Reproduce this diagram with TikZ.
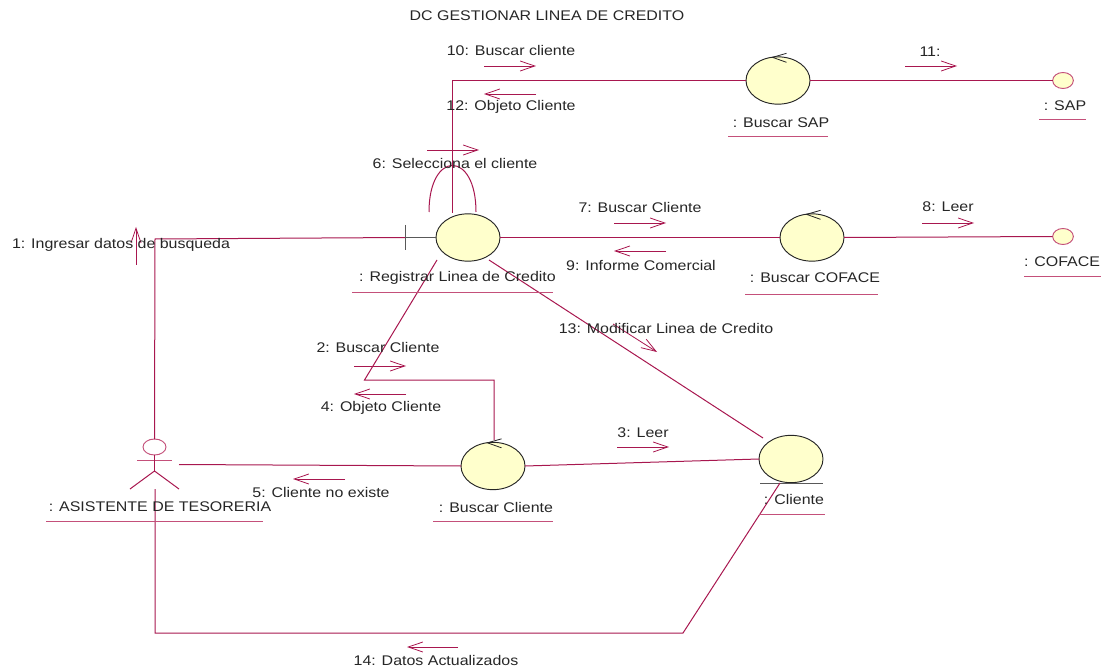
\documentclass[tikz,border=0pt]{standalone}
\usepackage{fontspec}
\setmainfont[FakeStretch=1.14]{Liberation Sans}
\usetikzlibrary{calc,arrows.meta,shapes.geometric}
\definecolor{linkrose}{HTML}{A8174F}
\definecolor{underrose}{HTML}{C4507A}
\definecolor{ballfill}{HTML}{FFFFCC}
\tikzset{
	link/.style={line width=0.75pt, color=linkrose},
	msg/.style={line width=0.6pt, color=linkrose, -{Straight Barb[length=11pt,width=7.5pt,line width=0.6pt]}},
	underl/.style={line width=0.75pt, color=underrose},
	ball/.style={ellipse, draw=black!85, fill=ballfill, line width=0.7pt, minimum width=48pt, minimum height=35.5pt, inner sep=0pt, outer sep=0pt},
	iface/.style={ellipse, draw=underrose, fill=ballfill, line width=0.7pt, minimum width=15.5pt, minimum height=12pt, inner sep=0pt, outer sep=0pt},
	lbl/.style={font=\fontsize{10.5pt}{12pt}\selectfont, color=black!85, inner sep=0pt},
	stem/.style={line width=0.75pt, color=black!65}
}
\def\ctrlmark(#1){\draw[line width=0.6pt, color=black!85] ($(#1.north)+(8.5,-3.5)$) -- ($(#1.north)+(-5.5,0.5)$) -- ($(#1.north)+(8.5,5.5)$);}
\begin{document}
\begin{tikzpicture}[x=0.75pt,y=-0.75pt]
	%%%%% START %%%%%
	\useasboundingbox (0,0) rectangle (1106,670);
	\node[lbl] (title) at (547,16) {DC GESTIONAR LINEA DE CREDITO};
	
	\node[ball] (regis) at (468,237.5) {};
	\node[ball] (busap) at (778,80.5) {};
	\node[ball] (bucof) at (812,237.5) {};
	\node[ball] (bucli) at (493,466) {};
	\node[ball] (clien) at (791,459) {};
	\node[iface] (sap) at (1063,80.5) {};
	\node[iface] (cofac) at (1063,236.5) {};
	
	\ctrlmark(busap);
	\ctrlmark(bucof);
	\ctrlmark(bucli);
	
	% boundary
	\coordinate (tick) at (405,237.5);
	\draw[stem] (405,225) -- (405,250);
	\draw[stem] (tick) -- (regis.west);
	
	% entity
	\draw[stem] (760,483) -- (823,483);
	
	% actor
	\node[iface, fill=white, minimum width=17.25pt] (actor) at (154.5,447) {};
	\coordinate (hip) at (154.5,471);
	\coordinate (armL) at (137,460.5);
	\coordinate (armR) at (172,460.5);
	\draw[underl] (armL) -- (armR);
	\draw[link] (actor.south) -- (hip);
	\draw[link] (130,489) -- (hip) -- (179,489);
	
	% links
	\coordinate (actup) at (155,239);
	\coordinate (topin) at (452,213);
	\coordinate (topbend) at (452,80.5);
	\coordinate (regA) at (437,260);
	\coordinate (bendA) at (364.5,380);
	\coordinate (bendB) at (494,380);
	\coordinate (bucliTop) at (494,440);
	\coordinate (regB) at (489,260);
	\coordinate (cliB) at (763,438);
	\coordinate (actR) at (179,464.5);
	\coordinate (actD) at (155,489);
	\coordinate (downL) at (155,633);
	\coordinate (downR) at (683,633);
	\coordinate (cliD) at (780,483);
	\draw[link] (actor.north) -- (actup) -- (tick);
	\draw[link] (topin) -- (topbend) -- (busap.west);
	\draw[link] (busap.east) -- (sap.west);
	\draw[link] (429,212) .. controls (429,150) and (476,150) .. (476,212);
	\draw[link] (regis.east) -- (bucof.west);
	\draw[link] (bucof.east) -- (cofac.west);
	\draw[link] (regA) -- (bendA) -- (bendB) -- (bucliTop);
	\draw[link] (regB) -- (cliB);
	\draw[link] (actR) -- (bucli.west);
	\draw[link] (bucli.east) -- (clien.west);
	\draw[link] (actD) -- (downL) -- (downR) -- (cliD);
	
	% messages
	\draw[msg] (484,66) -- (536,66);
	\draw[msg] (536,94) -- (484,94);
	\draw[msg] (905,66) -- (957,66);
	\draw[msg] (427,150) -- (479,150);
	\draw[msg] (614,223) -- (666,223);
	\draw[msg] (666,251) -- (614,251);
	\draw[msg] (922,223) -- (974,223);
	\draw[msg] (136,265) -- (136,227);
	\draw[msg] (354,366) -- (406,366);
	\draw[msg] (406,394) -- (354,394);
	\draw[msg] (613,324) -- (657,352);
	\draw[msg] (617,447) -- (669,447);
	\draw[msg] (345,479) -- (293,479);
	\draw[msg] (458,647) -- (407,647);
	
	% message texts
	\node[lbl] (msgten) at (511,50) {10: Buscar cliente};
	\node[lbl] (msgtwelve) at (511,107) {12: Objeto Cliente};
	\node[lbl] (msgeleven) at (930,52) {11:};
	\node[lbl] (msgsix) at (455,163) {6: Selecciona el cliente};
	\node[lbl] (msgseven) at (640,207) {7: Buscar Cliente};
	\node[lbl] (msgnine) at (641,265) {9: Informe Comercial};
	\node[lbl] (msgeight) at (948,207) {8: Leer};
	\node[lbl] (msgone) at (121,245) {1: Ingresar datos de busqueda};
	\node[lbl] (msgtwo) at (378,347) {2: Buscar Cliente};
	\node[lbl] (msgfour) at (381,408) {4: Objeto Cliente};
	\node[lbl] (msgthirteen) at (666,328) {13: Modificar Linea de Credito};
	\node[lbl] (msgthree) at (643,433) {3: Leer};
	\node[lbl] (msgfive) at (321,492) {5: Cliente no existe};
	\node[lbl] (msgfourteen) at (436,660) {14: Datos Actualizados};
	
	% object names
	\node[lbl] (nregis) at (457.5,278) {: Registrar Linea de Credito};
	\node[lbl] (nbusap) at (781,123) {: Buscar SAP};
	\node[lbl] (nsap) at (1065,106) {: SAP};
	\node[lbl] (ncofac) at (1062,262) {: COFACE};
	\node[lbl] (nbucof) at (815,278) {: Buscar COFACE};
	\node[lbl] (nactor) at (160,507) {: ASISTENTE DE TESORERIA};
	\node[lbl] (nbucli) at (496,507) {: Buscar Cliente};
	\node[lbl] (nclien) at (794,499) {: Cliente};
	
	\draw[underl] (352,292) -- (553,292);
	\draw[underl] (728,137) -- (828,137);
	\draw[underl] (1039,120) -- (1086,120);
	\draw[underl] (1024,277) -- (1101,277);
	\draw[underl] (745,294) -- (878,294);
	\draw[underl] (46,521) -- (263,521);
	\draw[underl] (433,521) -- (553,521);
	\draw[underl] (759,514) -- (825,514);
	%%%%% END %%%%%
\end{tikzpicture}
\end{document}
